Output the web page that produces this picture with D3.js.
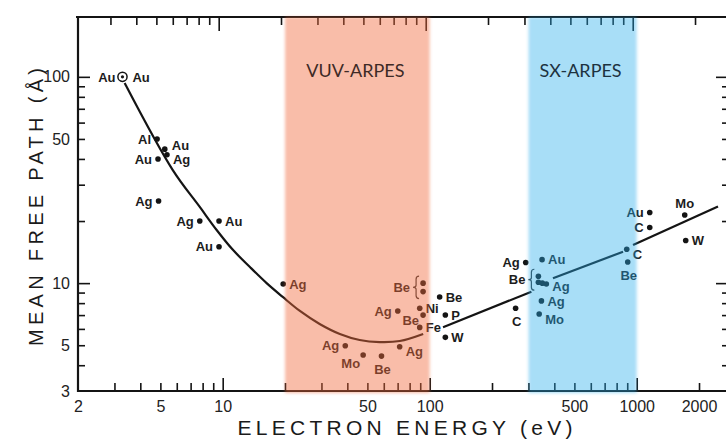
<!DOCTYPE html>
<html>
<head>
<meta charset="utf-8">
<script src="https://cdn.jsdelivr.net/npm/d3@7"></script>
<style>
  html, body { margin: 0; padding: 0; background: #fff; }
  svg { display: block; }
</style>
</head>
<body>
<svg id="chart" width="726" height="443"></svg>
<script>
// Electron mean free path versus electron kinetic energy ("universal curve")

// Measured points: energy (eV), mean free path (Å), element
const pointEnergy = [3.28, 4.82, 5.25, 5.38, 4.87, 4.9, 7.75, 9.6, 9.6, 19.6,
  92.9, 92.9, 70.1, 89.5, 92.9, 89.5, 39.1, 47.7, 58.5, 71.6,
  111.7, 119, 119, 291, 335, 335, 350, 366, 260, 349,
  346.5, 338, 895, 905, 1156, 1156, 1706, 1725];
const pointPath = [100, 50, 44.6, 41.9, 40, 25, 20, 20, 15, 9.9,
  10, 9.1, 7.33, 7.55, 7.0, 6.1, 4.97, 4.48, 4.43, 4.92,
  8.57, 7.01, 5.46, 12.6, 10.8, 10.1, 10.0, 9.9, 7.55, 13,
  8.2, 7.09, 14.6, 12.67, 22, 18.6, 21.4, 16.1];
const pointElement = ["Au", "Al", "Au", "Ag", "Au", "Ag", "Ag", "Au", "Au", "Ag",
  "Be", "Be", "Ag", "Ni", "Be", "Fe", "Ag", "Mo", "Be", "Ag",
  "Be", "P", "W", "Ag", "Be", "Be", "Be", "Ag", "C", "Au",
  "Ag", "Mo", "C", "Be", "Au", "C", "Mo", "W"];
// where each element name sits relative to its point
const pointLabelAt = ["ring", "L", "Ru", "Rd", "L", "L", "L", "R", "L", "R",
  "none", "none", "L", "R", "Ld", "R", "L", "BL", "B", "Rd",
  "R", "R", "R", "L", "none", "none", "none", "Rs", "B", "R",
  "R", "Rd", "Rd", "B", "L", "L", "T", "R"];
// points grouped under one bracketed label
const braceGroups = [
  { label: "Be", members: [10, 11] },
  { label: "Be", members: [24, 25, 26] }
];

// Guide curve through the low-energy region
const curveEnergy = [3.36, 5.73, 7.75, 9.35, 11.2, 13.5, 16.3, 19.5, 23.6, 29.4, 36.8, 45.9, 57.4, 71.7, 93];
const curvePath = [93.3, 35.4, 23.4, 18.1, 14.5, 12.0, 10.0, 8.57, 7.33, 6.34, 5.67, 5.3, 5.18, 5.24, 5.67];
// Straight high-energy segments: [E0, λ0, E1, λ1]
const lineSegments = [
  [116, 6.11, 310, 9.09],
  [394, 10.56, 859, 14.2],
  [960, 15.3, 2470, 23.5]
];

// Photon-energy windows
const bandNames = ["VUV-ARPES", "SX-ARPES"];
const bandFrom = [20, 300];
const bandTo = [100, 1000];

// Axis ticks
const xMajor = [10, 100, 1000];
const xMinor = [3, 4, 5, 6, 7, 8, 9, 20, 30, 40, 50, 60, 70, 80, 90, 200, 300, 400, 500, 600, 700, 800, 900, 2000];
const xLabels = [2, 5, 10, 50, 100, 500, 1000, 2000];
const yMajor = [10, 100];
const yMinor = [4, 5, 6, 7, 8, 9, 20, 30, 40, 50, 60, 70, 80, 90];
const yLabels = [3, 5, 10, 50, 100];

const xTitle = "ELECTRON ENERGY (eV)";
const yTitle = "MEAN FREE PATH (Å)";

const svg = d3.select("#chart");
const W = 726, H = 443;
const pLeft = 78, pRight = 726, pTop = 17, pBottom = 391;

const x = d3.scaleLog().domain([2, 2700]).range([pLeft, pRight]);
const y = d3.scaleLog().domain([3, 195]).range([pBottom, pTop]);

const ink = "#141414";
const font = "Liberation Sans, Arial, sans-serif";

const defs = svg.append("defs");
const blur = defs.append("filter").attr("id", "soft")
  .attr("x", "-10%").attr("y", "-2%").attr("width", "120%").attr("height", "104%");
blur.append("feGaussianBlur").attr("stdDeviation", 1.6);

svg.append("rect").attr("width", W).attr("height", H).attr("fill", "#fff");

// ---- axes ----
const axes = svg.append("g").attr("class", "axes");

function tickAxis(axis, values, size, transform) {
  const g = axes.append("g").attr("transform", transform)
    .call(axis.tickValues(values).tickSize(size).tickFormat(""));
  g.select(".domain").remove();
  g.selectAll(".tick line").attr("stroke", ink).attr("stroke-width", 1.6);
  return g;
}
// bottom (ticks pointing up)
tickAxis(d3.axisBottom(x), xMajor, -13, `translate(0,${pBottom})`);
tickAxis(d3.axisBottom(x), xMinor, -8, `translate(0,${pBottom})`);
// top (ticks pointing down)
tickAxis(d3.axisTop(x), xMajor, -14, `translate(-4,${pTop})`);
tickAxis(d3.axisTop(x), xMinor, -8, `translate(-4,${pTop})`);
// left (ticks pointing right)
tickAxis(d3.axisLeft(y), yMajor, -12, `translate(${pLeft},0)`);
tickAxis(d3.axisLeft(y), yMinor, -7, `translate(${pLeft},0)`);
// right edge (ticks pointing left)
tickAxis(d3.axisRight(y), yMajor, -11, `translate(${pRight + 1},0)`);
tickAxis(d3.axisRight(y), yMinor, -5, `translate(${pRight + 1},0)`);

// frame
axes.append("path")
  .attr("d", `M${pRight},${pTop}H${pLeft - 2}M${pLeft},${pTop - 1}V${pBottom}H${pRight}`)
  .attr("fill", "none").attr("stroke", ink).attr("stroke-width", 2.2);

// tick labels
const fmt = d3.format("d");
const xl = axes.append("g").attr("transform", `translate(0,${pBottom})`)
  .call(d3.axisBottom(x).tickValues(xLabels).tickSize(0).tickPadding(0).tickFormat(fmt));
xl.select(".domain").remove();
xl.selectAll("text").attr("dy", null).attr("y", 21)
  .attr("font-family", font).attr("font-size", 16).attr("fill", "#222");

const yl = axes.append("g").attr("transform", `translate(${pLeft},0)`)
  .call(d3.axisLeft(y).tickValues(yLabels).tickSize(0).tickPadding(8).tickFormat(fmt));
yl.select(".domain").remove();
yl.selectAll("text").attr("font-family", font)
  .attr("font-size", 16).attr("fill", "#222");

// axis titles
svg.append("text")
  .attr("x", 405).attr("y", 435)
  .attr("text-anchor", "middle")
  .attr("font-family", font)
  .attr("font-size", 21).attr("fill", "#1a1a1a")
  .attr("textLength", 335).attr("lengthAdjust", "spacing")
  .text(xTitle);

svg.append("text")
  .attr("transform", "translate(43,207) rotate(-90)")
  .attr("text-anchor", "middle")
  .attr("font-family", font)
  .attr("font-size", 20).attr("fill", "#1a1a1a")
  .attr("textLength", 278).attr("lengthAdjust", "spacing")
  .text(yTitle);

// ---- guide curve and straight segments ----
const plot = svg.append("g").attr("class", "plot");
const curveLine = d3.line()
  .x(d => x(d[0])).y(d => y(d[1]))
  .curve(d3.curveCatmullRom.alpha(0.5));
plot.append("path")
  .datum(curveEnergy.map((e, i) => [e, curvePath[i]]))
  .attr("d", curveLine)
  .attr("fill", "none").attr("stroke", ink).attr("stroke-width", 2.2);

plot.selectAll("line.seg").data(lineSegments).join("line")
  .attr("class", "seg")
  .attr("x1", d => x(d[0])).attr("y1", d => y(d[1]))
  .attr("x2", d => x(d[2])).attr("y2", d => y(d[3]))
  .attr("stroke", ink).attr("stroke-width", 2.2);

// ---- points ----
const pts = pointEnergy.map((e, i) => ({
  e, l: pointPath[i], el: pointElement[i], at: pointLabelAt[i]
}));

plot.selectAll("circle.pt").data(pts.filter(d => d.at !== "ring")).join("circle")
  .attr("class", "pt")
  .attr("cx", d => x(d.e)).attr("cy", d => y(d.l)).attr("r", 2.8)
  .attr("fill", ink);

// circled reference point
const ring = pts.filter(d => d.at === "ring");
plot.selectAll("circle.ring").data(ring).join("circle")
  .attr("class", "ring")
  .attr("cx", d => x(d.e)).attr("cy", d => y(d.l)).attr("r", 4.6)
  .attr("fill", "#fff").attr("stroke", ink).attr("stroke-width", 1.5);
plot.selectAll("circle.ringdot").data(ring).join("circle")
  .attr("class", "ringdot")
  .attr("cx", d => x(d.e)).attr("cy", d => y(d.l)).attr("r", 1.6)
  .attr("fill", ink);

// element labels
const place = {
  L: [-6, 0, "end"], R: [6, 0, "start"],
  Lu: [-6, -4, "end"], Ld: [-4, 5, "end"],
  Ru: [7, -4, "start"], Rd: [6, 5, "start"], Rs: [6, 2, "start"],
  B: [1, 13, "middle"], T: [0, -12, "middle"], BL: [-3, 8, "end"]
};
const labels = [];
pts.forEach(d => {
  if (d.at === "none") return;
  if (d.at === "ring") {
    labels.push({ d, dx: -7, dy: 0, anchor: "end" });
    labels.push({ d, dx: 10, dy: 0, anchor: "start" });
  } else {
    const p = place[d.at];
    labels.push({ d, dx: p[0], dy: p[1], anchor: p[2] });
  }
});
plot.selectAll("text.el").data(labels).join("text")
  .attr("class", "el")
  .attr("x", o => x(o.d.e) + o.dx)
  .attr("y", o => y(o.d.l) + o.dy)
  .attr("dy", "0.36em")
  .attr("text-anchor", o => o.anchor)
  .attr("font-family", font)
  .attr("font-weight", "bold").attr("font-size", 13)
  .attr("fill", "#1c1c1c")
  .text(o => o.d.el);

// bracketed groups
braceGroups.forEach(g => {
  const xs = g.members.map(i => x(pointEnergy[i]));
  const ys = g.members.map(i => y(pointPath[i]));
  const bx = d3.min(xs) - 7;
  const y0 = d3.min(ys) - 7, y1 = d3.max(ys) + 7, ym = (y0 + y1) / 2;
  plot.append("path")
    .attr("d", `M${bx + 3},${y0} Q${bx},${y0} ${bx},${y0 + 3} L${bx},${ym - 2} Q${bx},${ym} ${bx - 3},${ym}` +
      ` Q${bx},${ym} ${bx},${ym + 2} L${bx},${y1 - 3} Q${bx},${y1} ${bx + 3},${y1}`)
    .attr("fill", "none").attr("stroke", "#333").attr("stroke-width", 1.2);
  plot.append("text")
    .attr("x", bx - 6).attr("y", ym).attr("dy", "0.36em")
    .attr("text-anchor", "end")
    .attr("font-family", font)
    .attr("font-weight", "bold").attr("font-size", 13)
    .attr("fill", "#1c1c1c")
    .text(g.label);
});

// ---- photon-energy windows, laid over the drawing ----
const bandFill = ["#f2683a", "#2badea"];
const bandAlpha = [0.44, 0.4];
const bandInk = ["#3e2a26", "#1d3240"];
const bands = bandNames.map((n, i) => ({ n, a: bandFrom[i], b: bandTo[i], i }));
svg.append("g").selectAll("rect").data(bands).join("rect")
  .attr("x", d => x(d.a)).attr("width", d => x(d.b) - x(d.a))
  .attr("y", pTop).attr("height", pBottom - pTop + 2)
  .attr("fill", d => bandFill[d.i]).attr("fill-opacity", d => bandAlpha[d.i])
  .attr("filter", "url(#soft)");

svg.append("g").selectAll("text").data(bands).join("text")
  .attr("x", d => (x(d.a) + x(d.b)) / 2 - 2)
  .attr("y", 77)
  .attr("text-anchor", "middle")
  .attr("font-family", "Lato, 'Open Sans', sans-serif")
  .attr("font-size", 18)
  .attr("fill", d => bandInk[d.i])
  .text(d => d.n);
</script>
</body>
</html>
